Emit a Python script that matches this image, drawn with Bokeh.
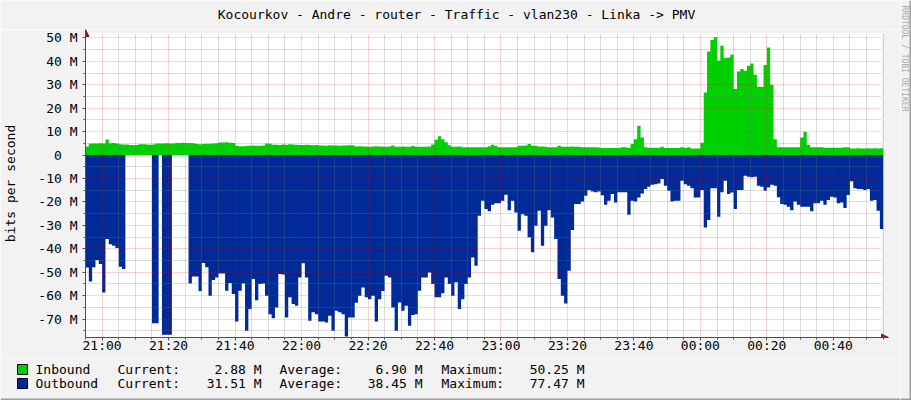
import numpy as np
from bokeh.plotting import figure
from bokeh.layouts import column, row
from bokeh.models import Range1d, FixedTicker, Arrow, NormalHead
from bokeh.embed import file_html
from bokeh.resources import INLINE
from bokeh.core.properties import value

# ---------------- data ----------------
title_text = "Kocourkov - Andre - router - Traffic - vlan230 - Linka -> PMV"
y_label = "bits per second"
watermark = "RRDTOOL / TOBI OETIKER"

# minutes since 20:55, one sample per minute
x_tick_pos = [5, 25, 45, 65, 85, 105, 125, 145, 165, 185, 205, 225]
x_tick_labels = ["21:00", "21:20", "21:40", "22:00", "22:20", "22:40",
                 "23:00", "23:20", "23:40", "00:00", "00:20", "00:40"]
y_tick_pos = [50, 40, 30, 20, 10, 0, -10, -20, -30, -40, -50, -60, -70]
y_tick_labels = ["50 M", "40 M", "30 M", "20 M", "10 M", "0\u00a0\u00a0", "-10 M",
                 "-20 M", "-30 M", "-40 M", "-50 M", "-60 M", "-70 M"]

# Mbit/s
inbound = [
    3.7, 4.9, 5.0, 5.0, 5.1, 5.0, 6.7, 5.1, 5.2, 5.0,
    4.6, 4.5, 4.5, 4.3, 4.2, 4.3, 4.6, 4.6, 4.5, 4.4,
    4.5, 4.9, 5.0, 5.0, 5.1, 5.0, 5.0, 5.2, 5.2, 5.3,
    5.2, 5.2, 5.1, 4.7, 4.6, 4.7, 4.8, 4.8, 4.9, 5.1,
    5.4, 5.4, 5.5, 5.3, 5.2, 4.0, 3.8, 3.8, 3.9, 4.0,
    4.1, 4.0, 3.9, 4.1, 4.9, 4.8, 4.4, 4.4, 4.3, 4.5,
    4.4, 4.6, 4.5, 4.4, 4.3, 4.3, 4.4, 4.3, 4.2, 4.3,
    4.1, 4.1, 4.0, 4.2, 4.1, 4.1, 4.0, 4.1, 4.1, 4.2, 4.1,
    3.7, 3.8, 3.7, 3.7, 3.6, 3.7, 3.8, 3.7, 3.7, 3.6, 3.7, 4.1,
    3.6, 3.6, 3.7, 3.6, 3.6, 3.9, 3.6, 3.6, 3.6, 3.6, 3.7,
    4.5, 6.5, 8.0, 6.8, 5.5, 4.2,
    3.6, 3.6, 3.7,
    3.3, 3.4, 3.3, 3.3, 3.4, 3.3, 3.3, 3.4,
    3.8, 4.4, 3.9,
    3.3, 3.3, 3.4, 3.3, 3.3, 3.3,
    4.0, 4.0, 4.1, 4.7, 4.0, 4.0,
    3.7, 3.7, 3.6, 3.3, 3.3, 3.3, 4.0,
    3.6, 3.6, 3.6, 3.7, 3.6, 3.6,
    3.3, 3.3, 3.3, 3.3, 3.3, 3.2,
    3.0, 3.0, 3.0, 3.0, 3.0,
    3.0, 3.3, 3.3, 3.0, 4.7, 6.8, 12.5, 7.5, 3.3, 3.1,
    3.1, 3.1, 3.1, 3.6, 3.0, 3.0, 3.0, 3.0, 3.0, 3.3,
    3.0, 3.3, 2.8, 2.8, 2.8, 5.3, 26.7, 44.2, 49.1, 50.25,
    40.3, 46.7, 41.4, 41.7, 42.8, 28.2, 35.7, 36.7, 36.0, 38.1,
    39.1, 34.3, 29.2, 29.2, 38.5, 45.9, 30.0, 6.8,
    3.3, 3.3, 3.3, 3.3, 3.3, 3.3, 3.3, 7.5, 10.0, 4.4,
    3.3, 3.3, 3.3, 3.3, 3.1, 3.1, 3.1, 3.1, 3.1, 3.1,
    3.3, 3.3, 2.8, 2.8, 2.9, 2.8, 2.8, 2.9, 2.8, 2.9, 2.8, 2.88,
]

outbound = [
    48.0, 53.9, 47.9, 44.8, 46.5, 58.6, 35.8, 38.0, 38.7, 39.7,
    47.7, 48.6, 0, 0, 0, 0, 0, 0, 0, 0,
    71.8, 71.8, 0, 76.7, 76.7, 76.7, 0, 0, 0, 0,
    0, 54.8, 51.8, 51.8, 58.0, 46.1, 47.9, 60.0, 53.3, 52.2,
    50.5, 50.5, 57.9, 54.6, 59.3, 71.0, 57.9, 54.8, 75.0, 65.7,
    52.9, 61.9, 55.0, 54.8, 60.0, 67.9, 69.6, 65.0, 50.8, 51.0,
    69.3, 60.7, 63.6, 64.3, 52.2, 46.2, 52.2, 70.7, 67.1, 67.9,
    71.0, 71.0, 71.4, 68.6, 75.0, 66.4, 67.1, 67.9, 77.47, 69.3,
    69.3, 63.0, 60.0, 56.5, 60.7, 61.5, 60.0, 71.0, 61.5, 58.0,
    51.5, 52.2, 65.0, 75.0, 62.9, 66.4, 64.3, 72.8, 68.3, 67.9,
    57.9, 52.2, 52.2, 50.1, 55.0, 60.7, 60.7, 59.0, 52.2, 55.0,
    60.0, 54.3, 65.7, 61.5, 55.0, 52.2, 43.7, 47.2, 25.9, 19.5,
    23.0, 24.0, 21.2, 20.5, 20.5, 19.5, 16.9, 23.5, 19.5, 24.5,
    32.3, 25.2, 25.9, 35.1, 41.5, 30.2, 23.8, 38.7, 30.2, 23.5,
    26.6, 35.8, 52.9, 60.0, 63.3, 49.4, 32.0, 20.9, 20.9, 19.8,
    17.4, 14.9, 15.5, 15.9, 15.5, 17.1, 21.2, 19.5, 16.6, 20.2,
    15.9, 15.9, 15.9, 25.5, 19.5, 19.8, 18.1, 16.4, 14.5, 13.5,
    12.7, 12.4, 12.1, 10.2, 13.1, 15.2, 19.8, 19.5, 19.5, 11.0,
    12.4, 13.1, 14.1, 18.1, 18.1, 14.9, 30.9, 27.7, 14.1, 14.1,
    26.3, 15.9, 11.0, 16.6, 16.0, 23.0, 14.9, 14.9, 8.8, 9.2,
    9.5, 9.2, 13.1, 13.5, 15.2, 13.8, 12.7, 13.1, 18.0, 20.9,
    21.2, 22.0, 23.5, 19.8, 21.2, 22.0, 22.0, 22.0, 24.0, 20.6,
    20.6, 19.5, 21.2, 19.2, 17.8, 18.1, 20.5, 20.2, 22.6, 17.0,
    11.2, 14.1, 14.5, 14.5, 14.9, 14.5, 19.5, 19.2, 23.8, 31.51,
]

series_names = ["Inbound", "Outbound"]
series_colors = ["#00CF00", "#002A97"]
current = [2.88, 31.51]
average = [6.90, 38.45]
maximum = [50.25, 77.47]

# ---------------- style ----------------
FONT = "DejaVu Sans Mono"
BG = "#F2F2F2"
FS = "13px"
ARROW = "#8B1A1A"
AXIS = "#505050"
SHADE = "#9E9E9E"
W_LEFT = 900      # width of the main column
W_WM = 11         # watermark strip

# canvas (white data area) extent, plus a little room for the axis arrows
T_END = 239.5
Y_TOP, Y_BOT = 51.9, -77.85
PX_PER_MIN = 800 / T_END
PX_PER_M = 304 / (Y_TOP - Y_BOT)
X_MAX = T_END + 7 / PX_PER_MIN
Y_MAX = Y_TOP + 4 / PX_PER_M

n = len(inbound)
t = np.arange(n + 1)
inb = np.append(np.array(inbound, dtype=float), inbound[-1])
outb = -np.append(np.array(outbound, dtype=float), outbound[-1])

# ---------------- main plot ----------------
p = figure(width=W_LEFT, height=329, x_range=Range1d(0, X_MAX), y_range=Range1d(Y_BOT, Y_MAX),
           output_backend="svg", toolbar_location=None, frame_align=False,
           min_border_left=81, min_border_right=12, min_border_top=0, min_border_bottom=21,
           background_fill_color=BG, border_fill_color=BG, outline_line_color=None)

# white canvas
p.quad(left=[0], right=[T_END], bottom=[Y_BOT], top=[Y_TOP], fill_color="white",
       line_color=None, level="underlay")

p.varea_step(x=t, y1=np.zeros_like(inb), y2=inb, step_mode="after", fill_color=series_colors[0])
p.varea_step(x=t, y1=outb, y2=np.zeros_like(outb), step_mode="after", fill_color=series_colors[1])

x_minor = [m for m in range(0, 241, 5) if m not in x_tick_pos]
y_minor = [m for m in range(-75, 51, 5) if m not in y_tick_pos]
p.xaxis.ticker = FixedTicker(ticks=x_tick_pos, minor_ticks=x_minor)
p.yaxis.ticker = FixedTicker(ticks=y_tick_pos, minor_ticks=y_minor)
p.xaxis.major_label_overrides = dict(zip(x_tick_pos, x_tick_labels))
p.yaxis.major_label_overrides = dict(zip(y_tick_pos, y_tick_labels))

for ax in (p.xaxis, p.yaxis):
    ax.axis_line_color = AXIS
    ax.major_tick_line_color = AXIS
    ax.minor_tick_line_color = AXIS
    ax.major_tick_in = 0
    ax.major_tick_out = 3
    ax.minor_tick_in = 0
    ax.minor_tick_out = 2
    ax.major_label_text_font = FONT
    ax.major_label_text_font_size = FS
    ax.major_label_text_color = "black"
p.xaxis.major_label_standoff = -3
p.yaxis.major_label_standoff = 5
p.yaxis.axis_label = y_label
p.yaxis.axis_label_text_font = FONT
p.yaxis.axis_label_text_font_size = FS
p.yaxis.axis_label_text_font_style = "normal"
p.yaxis.axis_label_text_color = "black"
p.yaxis.axis_label_standoff = 17

for g in (p.xgrid, p.ygrid):
    g.grid_line_color = "#FF0000"
    g.grid_line_alpha = 0.35
    g.grid_line_dash = "1 1"
    g.minor_grid_line_color = "#777777"
    g.minor_grid_line_alpha = 0.5
    g.minor_grid_line_dash = "1 1"
    g.level = "overlay"
if "cross_bounds" in p.xgrid[0].properties():
    p.xgrid.cross_bounds = (Y_BOT, Y_TOP)
    p.ygrid.cross_bounds = (0, T_END)

p.add_layout(Arrow(end=NormalHead(size=7, fill_color=ARROW, line_color=ARROW),
                   x_start=0, y_start=Y_TOP - 1, x_end=0, y_end=Y_MAX, line_alpha=0))
p.add_layout(Arrow(end=NormalHead(size=7, fill_color=ARROW, line_color=ARROW),
                   x_start=T_END - 1, y_start=Y_BOT, x_end=X_MAX, y_end=Y_BOT, line_alpha=0))

# ---------------- helper for plain text strips ----------------
def blank(w, h):
    f = figure(width=w, height=h, x_range=Range1d(0, w), y_range=Range1d(h, 0),
               output_backend="svg", toolbar_location=None, min_border=0, frame_align=False,
               x_axis_type=None, y_axis_type=None,
               background_fill_color=BG, border_fill_color=BG, outline_line_color=None)
    f.xgrid.visible = False
    f.ygrid.visible = False
    return f

# ---------------- header (title) ----------------
hdr = blank(W_LEFT, 29)
hdr.text(x=[456], y=[14], text=[title_text], text_font=value(FONT), text_font_size=FS,
         text_align="center", text_baseline="middle", text_color="black")

# ---------------- legend ----------------
leg = blank(W_LEFT, 42)
rows_y = [11, 25]
leg.rect(x=[22, 22], y=rows_y, width=10, height=10, fill_color=series_colors,
         line_color="black", line_width=1)
leg.text(x=[35, 35], y=rows_y, text=series_names, text_font=value(FONT), text_font_size=FS,
         text_align="left", text_baseline="middle", text_color="black")
for lab, xl, vals, xr in (("Current:", 117, current, 261),
                          ("Average:", 279, average, 422),
                          ("Maximum:", 441, maximum, 584)):
    leg.text(x=[xl, xl], y=rows_y, text=[lab, lab], text_font=value(FONT), text_font_size=FS,
             text_align="left", text_baseline="middle", text_color="black")
    leg.text(x=[xr, xr], y=rows_y, text=[f"{v:.2f} M" for v in vals], text_font=value(FONT),
             text_font_size=FS, text_align="right", text_baseline="middle", text_color="black")
leg.quad(left=[0], right=[W_LEFT], top=[40], bottom=[42], fill_color=SHADE, line_color=None)

# ---------------- watermark strip ----------------
wm = blank(W_WM, 400)
wm.text(x=[3.5], y=[5], text=[watermark], text_font=value(FONT), text_font_size="8px",
        text_align="left", text_baseline="middle", text_color="#A8A8A8", angle=-np.pi / 2)
wm.quad(left=[W_WM - 2], right=[W_WM], top=[0], bottom=[400], fill_color=SHADE, line_color=None)
wm.quad(left=[0], right=[W_WM], top=[398], bottom=[400], fill_color=SHADE, line_color=None)

layout = row(column(hdr, p, leg, spacing=0), wm, spacing=0)
open("out.html", "w").write(file_html(layout, INLINE))
